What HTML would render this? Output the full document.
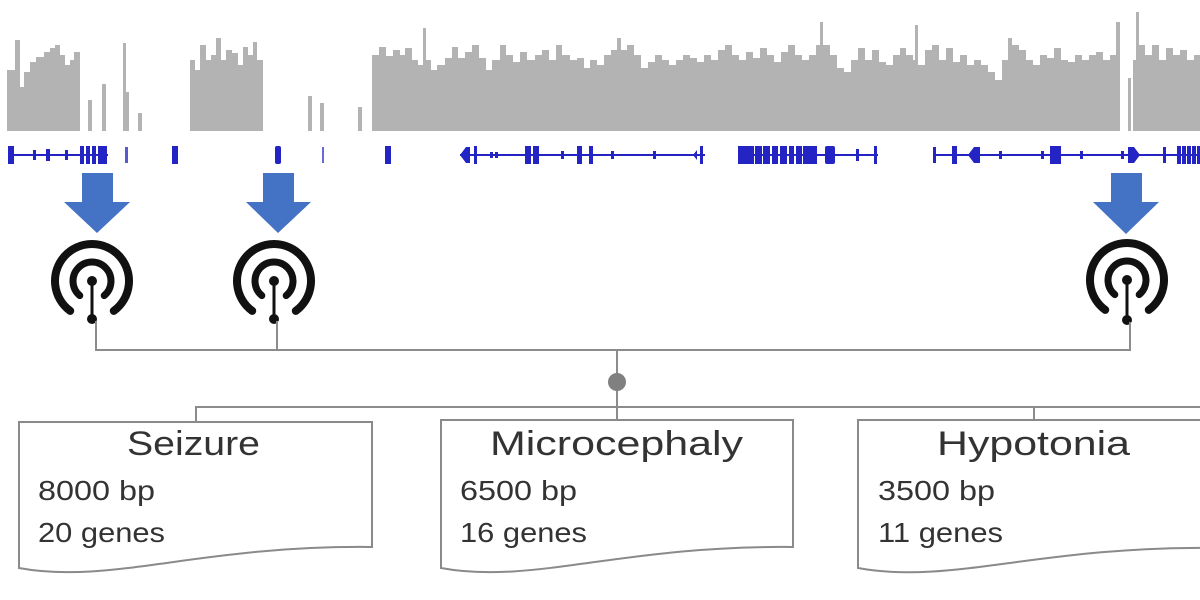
<!DOCTYPE html>
<html>
<head>
<meta charset="utf-8">
<style>
  html, body { margin: 0; padding: 0; background: #ffffff; }
  body { width: 1200px; height: 600px; overflow: hidden; }
  svg { display: block; }
  .t { font-family: "Liberation Sans", Arial, sans-serif; fill: #333333; }
</style>
</head>
<body>
<svg width="1200" height="600" viewBox="0 0 1200 600" xmlns="http://www.w3.org/2000/svg">
  <rect x="0" y="0" width="1200" height="600" fill="#ffffff"/>

  <!-- Coverage track -->
  <g fill="#b3b3b3">
    <path d="M7,131 V70 H15 V40 H20 V87 H24 V72 H30 V62 H36 V57 H44 V52 H50 V48 H55 V45 H60 V55 H65 V65 H70 V60 H74 V52 H80 V131 Z"/>
    <rect x="88" y="100" width="4" height="31"/>
    <rect x="102" y="84" width="4" height="47"/>
    <rect x="123" y="43" width="3" height="88"/>
    <rect x="126" y="92" width="3" height="39"/>
    <rect x="138" y="113" width="4" height="18"/>
    <path d="M190,131 V60 H195 V70 H200 V45 H206 V60 H211 V55 H216 V38 H221 V60 H226 V50 H232 V53 H238 V65 H243 V47 H248 V55 H253 V42 H257 V60 H263 V131 Z"/>
    <rect x="308" y="96" width="4" height="35"/>
    <rect x="320" y="103" width="4" height="28"/>
    <rect x="358" y="107" width="4" height="24"/>
    <path d="M372,131 V55 H379 V47 H386 V56 H393 V50 H400 V55 H405 V48 H412 V60 H418 V65 H423 V28 H426 V60 H431 V70 H437 V65 H445 V58 H452 V47 H458 V58 H465 V52 H472 V45 H479 V58 H486 V70 H492 V60 H500 V45 H506 V55 H513 V62 H520 V52 H527 V60 H535 V55 H542 V50 H549 V60 H556 V45 H562 V55 H570 V60 H577 V58 H584 V68 H590 V60 H597 V65 H604 V55 H611 V50 H617 V38 H621 V50 H627 V45 H634 V55 H641 V68 H648 V62 H655 V55 H662 V60 H669 V65 H676 V60 H683 V55 H690 V58 H697 V62 H704 V55 H711 V60 H718 V50 H725 V45 H732 V55 H739 V60 H746 V52 H753 V58 H760 V48 H767 V55 H774 V62 H781 V52 H788 V45 H795 V55 H802 V60 H809 V55 H816 V45 H820 V22 H823 V45 H830 V55 H837 V68 H844 V72 H851 V60 H858 V48 H865 V60 H872 V50 H879 V62 H886 V65 H893 V55 H900 V48 H906 V55 H913 V60 H915 V25 H918 V65 H925 V50 H932 V45 H939 V60 H946 V48 H953 V62 H960 V55 H967 V65 H974 V60 H981 V65 H988 V72 H995 V80 H1002 V60 H1008 V38 H1012 V45 H1019 V50 H1026 V60 H1033 V65 H1040 V55 H1047 V58 H1054 V48 H1061 V60 H1068 V62 H1075 V55 H1082 V60 H1089 V55 H1096 V52 H1103 V60 H1110 V55 H1116 V22 H1120 V131 Z"/>
    <rect x="1128" y="78" width="3" height="53"/>
    <path d="M1133,131 V60 H1136 V12 H1139 V45 H1145 V55 H1152 V45 H1159 V60 H1166 V48 H1173 V55 H1180 V50 H1187 V60 H1194 V55 H1200 V131 Z"/>
  </g>

  <!-- Gene track -->
  <g fill="#2424c4" stroke="none">
    <!-- group 1 -->
    <rect x="8" y="154" width="100" height="2"/>
    <rect x="8" y="146" width="6" height="18"/>
    <rect x="33" y="150" width="3" height="10"/>
    <rect x="46" y="149" width="4" height="12"/>
    <rect x="65" y="150" width="3" height="10"/>
    <rect x="80" y="146" width="4" height="18"/>
    <rect x="86" y="146" width="4" height="18"/>
    <rect x="92" y="146" width="4" height="18"/>
    <rect x="98" y="146" width="9" height="18"/>
    <rect x="125" y="147" width="3" height="16" fill="#5a5ad0"/>
    <rect x="172" y="146" width="6" height="18"/>
    <rect x="275" y="146" width="6" height="18" rx="2"/>
    <rect x="322" y="147" width="2" height="16" fill="#6a6ad4"/>
    <rect x="385" y="146" width="6" height="18"/>
    <!-- group 2 -->
    <rect x="460" y="154" width="245" height="2"/>
    <polygon points="460,155 466,147 470,147 470,163 466,163"/>
    <rect x="474" y="146" width="3" height="18"/>
    <rect x="490" y="152" width="3" height="6"/>
    <rect x="495" y="152" width="3" height="6"/>
    <rect x="525" y="146" width="6" height="18"/>
    <rect x="533" y="146" width="6" height="18"/>
    <rect x="561" y="151" width="3" height="8"/>
    <rect x="577" y="146" width="5" height="18"/>
    <rect x="589" y="146" width="4" height="18"/>
    <rect x="611" y="151" width="3" height="8"/>
    <rect x="653" y="151" width="3" height="8"/>
    <polygon points="693,155 697,150 697,160"/>
    <rect x="700" y="146" width="3" height="18"/>
    <!-- group 3 -->
    <rect x="738" y="154" width="140" height="2"/>
    <rect x="738" y="146" width="16" height="18"/>
    <rect x="755" y="146" width="7" height="18"/>
    <rect x="763" y="146" width="7" height="18"/>
    <rect x="772" y="146" width="6" height="18"/>
    <rect x="780" y="146" width="7" height="18"/>
    <rect x="789" y="146" width="5" height="18"/>
    <rect x="796" y="146" width="6" height="18"/>
    <rect x="803" y="146" width="14" height="18"/>
    <rect x="825" y="146" width="10" height="18" rx="2"/>
    <rect x="856" y="149" width="3" height="12"/>
    <rect x="874" y="146" width="3" height="18"/>
    <!-- group 4 -->
    <rect x="933" y="154" width="267" height="2"/>
    <rect x="933" y="147" width="3" height="16"/>
    <rect x="952" y="146" width="5" height="18"/>
    <polygon points="968,155 974,147 980,147 980,163 974,163"/>
    <rect x="999" y="151" width="3" height="8"/>
    <rect x="1041" y="151" width="3" height="8"/>
    <rect x="1050" y="146" width="11" height="18"/>
    <rect x="1080" y="151" width="3" height="8"/>
    <rect x="1121" y="151" width="3" height="8"/>
    <polygon points="1128,147 1134,147 1140,155 1134,163 1128,163"/>
    <rect x="1163" y="147" width="3" height="16"/>
    <rect x="1177" y="146" width="4" height="18"/>
    <rect x="1182" y="146" width="4" height="18"/>
    <rect x="1187" y="146" width="4" height="18"/>
    <rect x="1192" y="146" width="4" height="18"/>
    <rect x="1197" y="146" width="3" height="18"/>
  </g>

  <!-- Blue arrows -->
  <g fill="#4472c4">
    <polygon points="82,173 113,173 113,202 130,202 97,233 64,202 82,202"/>
    <polygon points="263,173 294,173 294,202 311,202 278,233 246,202 263,202"/>
    <polygon points="1111,173 1142,173 1142,202 1159,202 1126,234 1093,202 1111,202"/>
  </g>

  <!-- Broadcast icons -->
  <g stroke="#111111" fill="none" stroke-linecap="round">
    <!-- icon 1: cx 92, cy 281 -->
    <path d="M70.2,310.9 A37,37 0 1 1 113.8,310.9" stroke-width="8"/>
    <path d="M79.8,295.6 A19,19 0 1 1 104.2,295.6" stroke-width="7"/>
    <line x1="92" y1="281" x2="92" y2="319" stroke-width="3"/>
    <!-- icon 2: cx 274, cy 281 -->
    <path d="M252.2,310.9 A37,37 0 1 1 295.8,310.9" stroke-width="8"/>
    <path d="M261.8,295.6 A19,19 0 1 1 286.2,295.6" stroke-width="7"/>
    <line x1="274" y1="281" x2="274" y2="319" stroke-width="3"/>
    <!-- icon 3: cx 1127, cy 280 -->
    <path d="M1105.2,309.9 A37,37 0 1 1 1148.8,309.9" stroke-width="8"/>
    <path d="M1114.8,294.6 A19,19 0 1 1 1139.2,294.6" stroke-width="7"/>
    <line x1="1127" y1="280" x2="1127" y2="320" stroke-width="3"/>
  </g>
  <g fill="#111111">
    <circle cx="92" cy="281" r="5"/>
    <circle cx="92" cy="319" r="5"/>
    <circle cx="274" cy="281" r="5"/>
    <circle cx="274" cy="319" r="5"/>
    <circle cx="1127" cy="280" r="5"/>
    <circle cx="1127" cy="320" r="5"/>
  </g>

  <!-- Connectors -->
  <g stroke="#8c8c8c" stroke-width="2" fill="none">
    <line x1="96" y1="321" x2="96" y2="350"/>
    <line x1="277" y1="321" x2="277" y2="350"/>
    <line x1="1130" y1="322" x2="1130" y2="350"/>
    <line x1="95" y1="350" x2="1131" y2="350"/>
    <line x1="617" y1="350" x2="617" y2="421"/>
    <line x1="195" y1="407" x2="1200" y2="407"/>
    <line x1="196" y1="406" x2="196" y2="423"/>
    <line x1="1034" y1="406" x2="1034" y2="421"/>
  </g>
  <circle cx="617" cy="382" r="9" fill="#808080"/>

  <!-- Document boxes -->
  <g fill="#ffffff" stroke="#8a8a8a" stroke-width="2">
    <path d="M19,422 H372 V547 C200,545 110,585 19,568 Z"/>
    <path d="M441,420 H793 V547 C622,545 532,585 441,568 Z"/>
    <path d="M858,420 H1212 V548 C1040,546 950,585 858,568 Z"/>
  </g>

  <!-- Text -->
  <text class="t" x="127" y="455" font-size="34" textLength="133" lengthAdjust="spacingAndGlyphs">Seizure</text>
  <text class="t" x="38" y="500" font-size="28" textLength="117" lengthAdjust="spacingAndGlyphs">8000 bp</text>
  <text class="t" x="38" y="542" font-size="28" textLength="127" lengthAdjust="spacingAndGlyphs">20 genes</text>

  <text class="t" x="490" y="455" font-size="34" textLength="253" lengthAdjust="spacingAndGlyphs">Microcephaly</text>
  <text class="t" x="460" y="500" font-size="28" textLength="117" lengthAdjust="spacingAndGlyphs">6500 bp</text>
  <text class="t" x="460" y="542" font-size="28" textLength="127" lengthAdjust="spacingAndGlyphs">16 genes</text>

  <text class="t" x="937" y="455" font-size="34" textLength="193" lengthAdjust="spacingAndGlyphs">Hypotonia</text>
  <text class="t" x="878" y="500" font-size="28" textLength="117" lengthAdjust="spacingAndGlyphs">3500 bp</text>
  <text class="t" x="878" y="542" font-size="28" textLength="125" lengthAdjust="spacingAndGlyphs">11 genes</text>
</svg>
</body>
</html>
